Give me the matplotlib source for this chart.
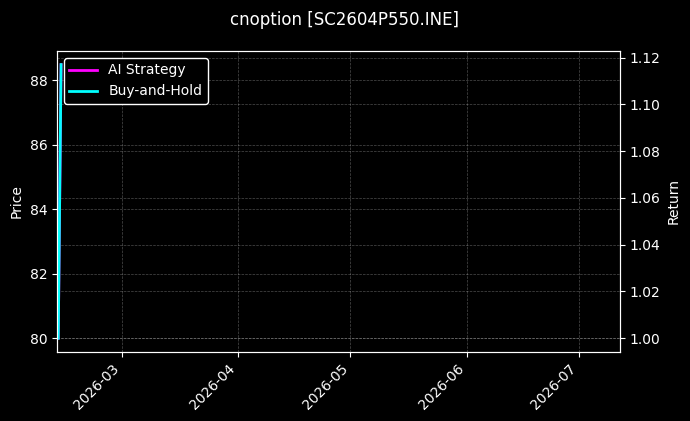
import numpy as np
import pandas as pd
import matplotlib
matplotlib.use("Agg")
import matplotlib.pyplot as plt
import matplotlib.dates as mdates

dates = pd.to_datetime(["2026-02-12 03:00", "2026-02-12 21:00"])
price = [80.0, 88.49]
ai_return = [1.0, 1.117]
bh_return = [1.0, 1.117]
x_start = pd.Timestamp("2026-02-11 19:00")
x_end = pd.Timestamp("2026-07-11 22:00")

plt.style.use("dark_background")
fig = plt.figure(figsize=(6.9, 4.21), dpi=100)
ax = fig.add_axes([0.0826, 0.164, 0.816, 0.715])
ax2 = ax.twinx()

ax.plot(dates, price, color="white", linewidth=1.0, alpha=0.8)
ax2.plot(dates, ai_return, color="magenta", linewidth=2, label="AI Strategy")
ax2.plot(dates, bh_return, color="cyan", linewidth=2, label="Buy-and-Hold")

ax.set_xlim(x_start, x_end)
ax.set_ylabel("Price")
ax2.set_ylabel("Return")
ax.xaxis.set_major_locator(mdates.MonthLocator())
ax.xaxis.set_major_formatter(mdates.DateFormatter("%Y-%m"))
plt.setp(ax.get_xticklabels(), rotation=45, ha="right")

ax.grid(True, linestyle="--", linewidth=0.5, alpha=0.3)
ax2.grid(True, linestyle="--", linewidth=0.5, alpha=0.3)

ax2.legend(loc="upper left", facecolor="black", edgecolor="white", framealpha=1.0)
fig.suptitle("cnoption [SC2604P550.INE]", fontsize=12, y=0.975)

fig.savefig("out.png", dpi=100, facecolor="black")
